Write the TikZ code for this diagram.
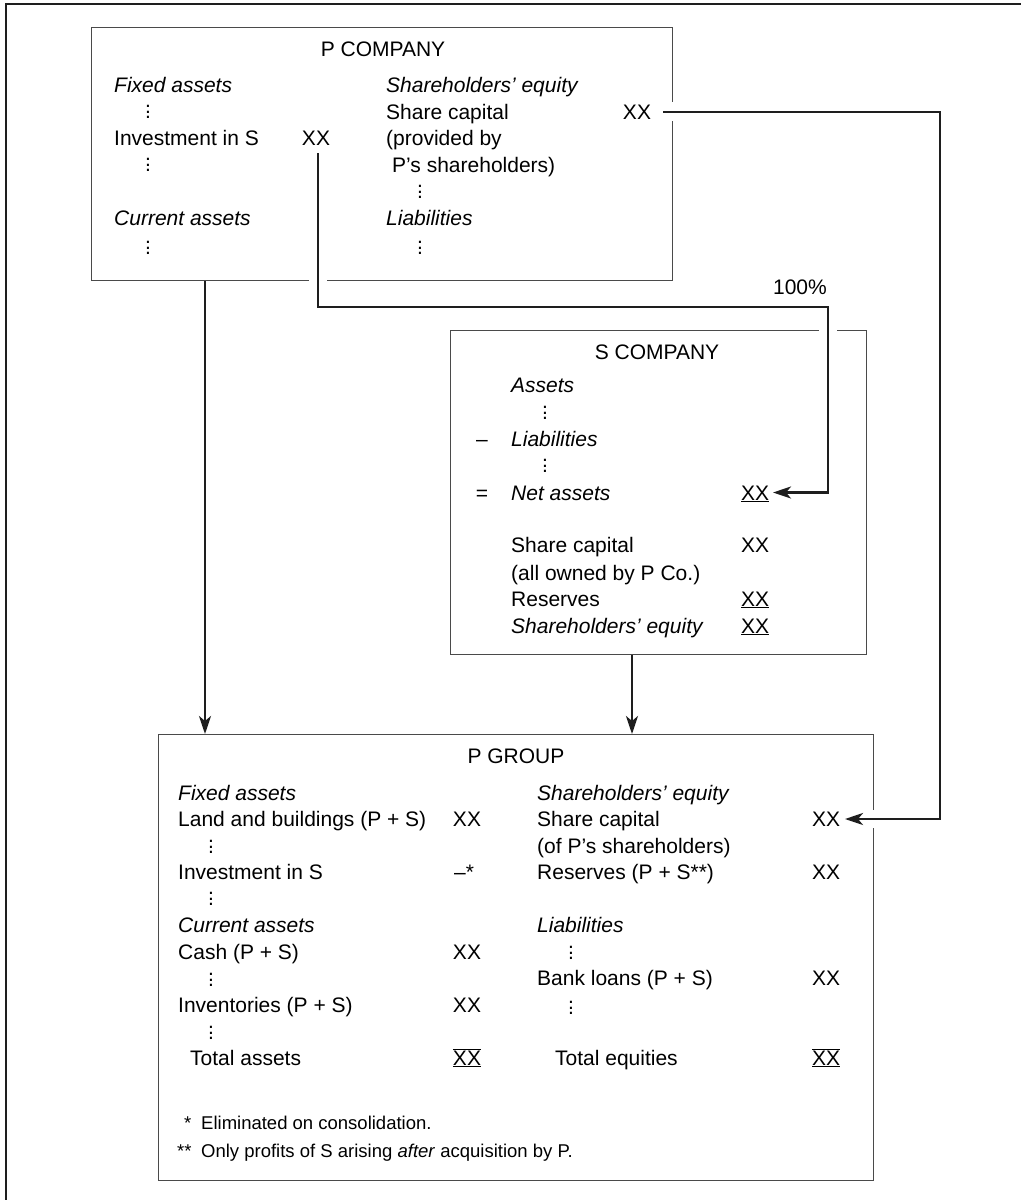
\documentclass[tikz,border=0pt]{standalone}
\usepackage{fontspec}
\setmainfont{Liberation Sans}
\usetikzlibrary{arrows.meta}
\definecolor{boxgray}{HTML}{4A4A4A}
\definecolor{connblack}{HTML}{1E1E1E}
\newcommand{\vdts}{\vbox{\baselineskip=5.5pt\lineskiplimit=-30pt\hbox{.}\hbox{.}\hbox{.}}}
\newcommand{\ulxx}{$\underline{\mbox{XX}}$}
\newcommand{\oulxx}{$\underline{\overline{\mbox{XX}}}$}
\begin{document}
\begin{tikzpicture}[x=1pt,y=-1pt,
  txt/.style={anchor=base west, inner sep=0pt, font=\fontsize{21}{25}\selectfont},
  txc/.style={txt, anchor=base},
  itx/.style={txt, font=\fontsize{21}{25}\selectfont\itshape},
  fnt/.style={anchor=base west, inner sep=0pt, font=\fontsize{18.5}{22}\selectfont},
  dts/.style={inner sep=0pt, font=\fontsize{21}{25}\selectfont},
  boxline/.style={draw=boxgray, line width=1.3pt, inner sep=0pt, anchor=north west},
  conn/.style={draw=connblack, line width=2.6pt},
  arrowconn/.style={conn, -{Stealth[length=18pt,width=12pt,inset=5pt]}},
  gapline/.style={draw=white, line width=3.5pt}]
\useasboundingbox (0,0) rectangle (1021,1200);
% outer frame
\draw[line width=1.8pt, connblack] (6,1200) -- (6,4) -- (1021,4);

% boxes
\node[boxline, minimum width=581pt, minimum height=253pt] (pbox) at (91,27) {};
\node[boxline, minimum width=416pt, minimum height=324pt] (sbox) at (450,330) {};
\node[boxline, minimum width=715pt, minimum height=446pt] (gbox) at (158,734) {};

% gaps where connectors cross box edges
\draw[gapline] (309,280) -- (327,280);
\draw[gapline] (819,330) -- (837,330);
\draw[gapline] (672,102) -- (672,121);
\draw[gapline] (873,810) -- (873,828);

% P COMPANY texts
\node[txc] (ptitle) at (383,56) {P COMPANY};
\node[itx] (pfa) at (114,92) {Fixed assets};
\node[dts] (pd1) at (148,112) {\vdts};
\node[txt] (pinv) at (114,145) {Investment in S};
\node[txc] (pinvxx) at (316,145) {XX};
\node[dts] (pd2) at (148,165) {\vdts};
\node[itx] (pca) at (114,225) {Current assets};
\node[dts] (pd3) at (148,248) {\vdts};
\node[itx] (pse) at (386,92) {Shareholders’ equity};
\node[txt] (psc) at (386,119) {Share capital};
\node[txc] (pscxx) at (637,119) {XX};
\node[txt] (pprov) at (386,145) {(provided by};
\node[txt] (pprov2) at (392,172) {P’s shareholders)};
\node[dts] (pd4) at (420,192) {\vdts};
\node[itx] (pli) at (386,225) {Liabilities};
\node[dts] (pd5) at (420,248) {\vdts};

% S COMPANY texts
\node[txc] (stitle) at (657,359) {S COMPANY};
\node[itx] (sas) at (511,392) {Assets};
\node[dts] (sd1) at (545,413) {\vdts};
\node[txc] (sminus) at (482,446) {–};
\node[itx] (sli) at (511,446) {Liabilities};
\node[dts] (sd2) at (545,466) {\vdts};
\node[txc] (seq) at (482,500) {=};
\node[itx] (sna) at (511,500) {Net assets};
\node[txc] (snaxx) at (755,500) {\ulxx};
\node[txt] (ssc) at (511,552) {Share capital};
\node[txc] (sscxx) at (755,552) {XX};
\node[txt] (sown) at (511,580) {(all owned by P Co.)};
\node[txt] (sres) at (511,606) {Reserves};
\node[txc] (sresxx) at (755,606) {\ulxx};
\node[itx] (sse) at (511,633) {Shareholders’ equity};
\node[txc] (ssexx) at (755,633) {\ulxx};

% P GROUP texts
\node[txc] (gtitle) at (516,763) {P GROUP};
\node[itx] (gfa) at (178,800) {Fixed assets};
\node[txt] (glb) at (178,826) {Land and buildings (P + S)};
\node[txc] (glbxx) at (467,826) {XX};
\node[dts] (gd1) at (211,847) {\vdts};
\node[txt] (ginv) at (178,879) {Investment in S};
\node[txt] (ginvxx) at (454,879) {–*};
\node[dts] (gd2) at (211,899) {\vdts};
\node[itx] (gca) at (178,932) {Current assets};
\node[txt] (gcash) at (178,959) {Cash (P + S)};
\node[txc] (gcashxx) at (467,959) {XX};
\node[dts] (gd3) at (211,980) {\vdts};
\node[txt] (ginvt) at (178,1012) {Inventories (P + S)};
\node[txc] (ginvtxx) at (467,1012) {XX};
\node[dts] (gd4) at (211,1033) {\vdts};
\node[txt] (gta) at (190,1065) {Total assets};
\node[txc] (gtaxx) at (467,1065) {\oulxx};
\node[itx] (gse) at (537,800) {Shareholders’ equity};
\node[txt] (gsc) at (537,826) {Share capital};
\node[txc] (gscxx) at (826,826) {XX};
\node[txt] (gsc2) at (537,853) {(of P’s shareholders)};
\node[txt] (gres) at (537,879) {Reserves (P + S**)};
\node[txc] (gresxx) at (826,879) {XX};
\node[itx] (gli) at (537,932) {Liabilities};
\node[dts] (gd5) at (571,953) {\vdts};
\node[txt] (gbank) at (537,985) {Bank loans (P + S)};
\node[txc] (gbankxx) at (826,985) {XX};
\node[dts] (gd6) at (571,1008) {\vdts};
\node[txt] (gte) at (555,1065) {Total equities};
\node[txc] (gtexx) at (826,1065) {\oulxx};
\node[fnt] (f1s) at (184,1129) {*};
\node[fnt] (f1) at (201,1129) {Eliminated on consolidation.};
\node[fnt] (f2s) at (177,1157) {**};
\node[fnt] (f2) at (201,1157) {Only profits of S arising \textit{after} acquisition by P.};

% label
\node[txt, anchor=base east] (pct) at (827,294) {100\%};

% connectors
\coordinate (lc) at (205,0);
\coordinate (sc) at (632,0);
\coordinate (i1) at (318,153);
\coordinate (i2) at (318,307);
\coordinate (i3) at (828,307);
\coordinate (i4) at (828,492.5);
\coordinate (i5) at (773,492.5);
\coordinate (k1) at (663,112);
\coordinate (k2) at (940,112);
\coordinate (k3) at (940,819);
\coordinate (k4) at (845,819);
\draw[arrowconn] (lc |- pbox.south) -- (lc |- gbox.north);
\draw[arrowconn] (sc |- sbox.south) -- (sc |- gbox.north);
\draw[arrowconn] (i1) -- (i2) -- (i3) -- (i4) -- (i5);
\draw[arrowconn] (k1) -- (k2) -- (k3) -- (k4);
\end{tikzpicture}
\end{document}
